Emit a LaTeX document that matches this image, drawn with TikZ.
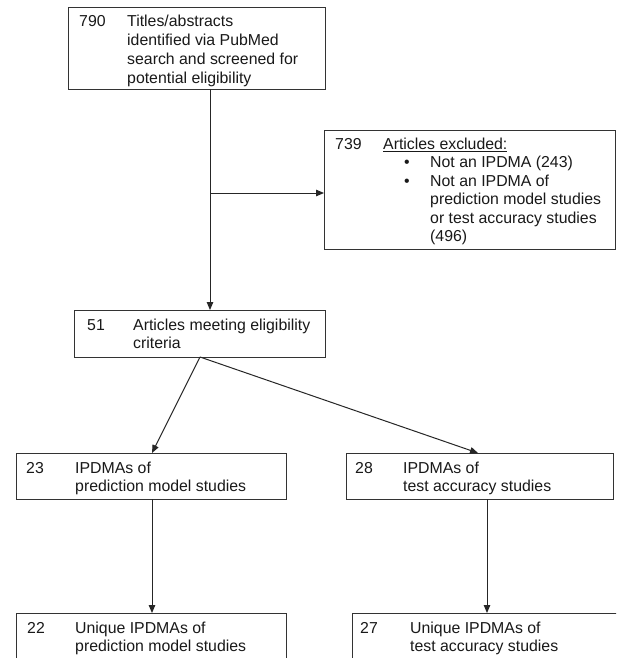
\documentclass[tikz,border=0pt]{standalone}
\usepackage{fontspec}
\setmainfont{Liberation Sans}
\usetikzlibrary{arrows.meta,calc}
\begin{document}
\begin{tikzpicture}[x=1pt,y=-1pt,
  box/.style={draw=black!80, line width=0.9pt, anchor=north west, inner sep=0pt, outer sep=0pt},
  txt/.style={anchor=base west, inner sep=0pt, font=\fontsize{15.85}{18.7}\selectfont, text=black!90},
  arr/.style={draw=black!85, line width=1pt, -{Triangle[length=8pt,width=6.5pt]}}]
\clip (0,0) rectangle (616,658);
\fill[white] (0,0) rectangle (616,658);
% boxes
\node[box, minimum width=257pt, minimum height=82pt] (b1) at (68,7) {};
\node[box, minimum width=251pt, minimum height=47pt] (b2) at (74,310) {};
\node[box, minimum width=291pt, minimum height=119pt] (ex) at (324,130) {};
\node[box, minimum width=270pt, minimum height=46pt] (b23) at (16,453) {};
\node[box, minimum width=267pt, minimum height=46pt] (b28) at (346,453) {};
\node[box, minimum width=270pt, minimum height=90pt] (b22) at (16,613) {};
\node[box, minimum width=290pt, minimum height=90pt] (b27) at (352,613) {};
% texts box 1
\node[txt] (n1) at (79,27) {790};
\node[txt] (t1a) at (127,27) {Titles/abstracts};
\node[txt] (t1b) at (127,45.7) {identified via PubMed};
\node[txt] (t1c) at (127,64.4) {search and screened for};
\node[txt] (t1d) at (127,83.1) {potential eligibility};
% box 2
\node[txt] (n2) at (87,330) {51};
\node[txt] (t2a) at (133,330) {Articles meeting eligibility};
\node[txt] (t2b) at (133,348.7) {criteria};
% exclusion
\node[txt] (ne) at (335,149.5) {739};
\node[txt] (tea) at (383,149.5) {\underline{Articles excluded:}};
\node[txt] (bu1) at (404,167.5) {•};
\node[txt] (teb) at (430,167.5) {Not an IPDMA (243)};
\node[txt] (bu2) at (404,186) {•};
\node[txt] (tec) at (430,186) {Not an IPDMA of};
\node[txt] (ted) at (430,204.5) {prediction model studies};
\node[txt] (tee) at (430,223) {or test accuracy studies};
\node[txt] (tef) at (430,241.5) {(496)};
% box 23
\node[txt] (n23) at (26,473) {23};
\node[txt] (t23a) at (75,473) {IPDMAs of};
\node[txt] (t23b) at (75,491.7) {prediction model studies};
% box 28
\node[txt] (n28) at (355,473) {28};
\node[txt] (t28a) at (403,473) {IPDMAs of};
\node[txt] (t28b) at (403,491.7) {test accuracy studies};
% box 22
\node[txt] (n22) at (27,633) {22};
\node[txt] (t22a) at (75,633) {Unique IPDMAs of};
\node[txt] (t22b) at (75,651.7) {prediction model studies};
% box 27
\node[txt] (n27) at (360,633) {27};
\node[txt] (t27a) at (410,633) {Unique IPDMAs of};
\node[txt] (t27b) at (410,651.7) {test accuracy studies};
% connectors
\coordinate (j) at (210,193);
\draw[arr] (j |- b1.south) -- (j |- b2.north);
\draw[arr] (j) -- (j -| ex.west);
\path (b2.south west) ++(126,0) coordinate (s2);
\path (b23.north west) ++(136,0) coordinate (e23);
\path (b28.north west) ++(132,0) coordinate (e28);
\draw[arr] (s2) -- (e23);
\draw[arr] (s2) -- (e28);
\path (b23.south west) ++(136,0) coordinate (d23);
\path (b28.south west) ++(141,0) coordinate (d28);
\draw[arr] (d23) -- (d23 |- b22.north);
\draw[arr] (d28) -- (d28 |- b27.north);
\end{tikzpicture}
\end{document}
